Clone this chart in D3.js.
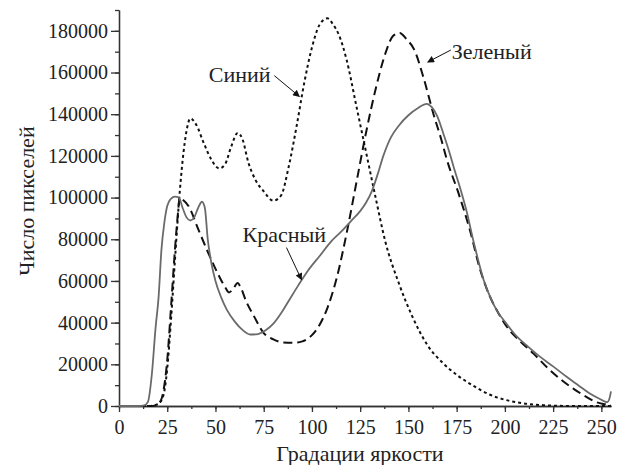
<!DOCTYPE html>
<html>
<head>
<meta charset="utf-8">
<script src="https://cdn.jsdelivr.net/npm/d3@7.9.0/dist/d3.min.js"></script>
<style>
  body { margin: 0; background: #fff; }
  svg text { font-family: "Liberation Serif", "Times New Roman", serif !important; }
  .axis path, .axis line { stroke: #333; stroke-width: 1.3; }
</style>
</head>
<body>
<svg id="chart" width="626" height="465"></svg>
<script>
// brightness levels and pixel counts (thousands)
const blueX = [0, 10, 15, 19, 21, 23, 25, 27, 29, 31, 33, 35, 37, 40, 44, 48, 52, 55, 58, 61.5, 64, 67, 71, 75, 80, 84, 88, 92, 96, 100, 104, 108, 111, 114, 118, 123, 128, 133, 138, 145, 152, 160, 168, 175, 184, 192, 200, 210, 220, 235, 255];
const blueY = [0, 0, 0, 0.5, 1.5, 5, 18, 42, 70, 97, 118, 132, 138, 135, 126, 118, 114, 116, 124, 131, 128, 117, 108, 103, 98.5, 101, 115, 134, 155, 172, 183, 186, 183, 178, 166, 144, 122, 100, 79, 59, 43, 29, 20.5, 15, 9.5, 5.5, 3, 1.2, 0.4, 0, 0];

const greenX = [0, 10, 16, 19, 21, 23, 25, 27, 29, 30.5, 31.5, 33, 36, 41, 46, 51.5, 55, 57, 59, 61.5, 63, 66, 70, 75, 80, 85, 90, 95, 100, 104, 108, 113, 118, 123, 128, 133, 138, 142, 145.5, 149, 153, 158, 163, 167, 170, 176, 182, 187, 192, 197, 201, 208, 215, 223, 230, 236, 242, 247, 251, 255];
const greenY = [0, 0, 0, 0.3, 1.5, 7, 22, 48, 75, 92, 100, 99, 96, 85, 74, 63, 57, 54.5, 56, 59, 57, 50, 43, 35, 32, 30.5, 30.3, 31, 34, 39, 47, 62, 83, 107, 131, 152, 169, 177.5, 179, 176, 171, 157, 140, 128, 118, 102, 84, 66, 53, 44, 38, 31, 25, 17.5, 12, 8, 4.5, 2, 1, 0.5];

const redX = [0, 10, 13, 15, 17, 19, 20.5, 22, 23.5, 25, 27, 29, 31, 33, 35, 37, 39, 41, 43, 44.5, 46, 48, 50, 53, 56, 60, 64, 68, 72, 76, 80, 84, 88, 93, 98, 104, 110, 115, 120, 125, 128, 131, 134, 137, 141, 145, 150, 155, 159.5, 162, 165, 168, 171, 174, 177, 180, 184, 189, 193, 196, 200, 206, 212, 218, 225, 232, 238, 244, 249, 253, 254, 255];
const redY = [0, 0, 0.3, 2, 15, 38, 52, 75, 88, 96, 99.5, 100.5, 100, 95, 90.5, 89, 90.5, 95, 98, 95, 80, 68, 60, 52, 46, 40.5, 36.5, 34.3, 34.5, 36.3, 39.5, 44.5, 50.5, 58, 65, 72, 79, 83.5, 88.5, 93.5, 97.5, 103, 111, 120, 129, 134.5, 139.5, 143, 145, 143.5, 139, 131, 122.5, 113, 104, 94, 78, 60.5, 51, 45.5, 40.5, 33.5, 28.5, 23.8, 19, 14, 10, 6, 3.5, 1.8, 3, 7];

const xTicks = [0, 25, 50, 75, 100, 125, 150, 175, 200, 225, 250];
const yTicks = [0, 20000, 40000, 60000, 80000, 100000, 120000, 140000, 160000, 180000];

const series = [
  { name: 'Синий', xs: blueX, ys: blueY, color: '#111', width: 2, dash: '3,3' },
  { name: 'Зеленый', xs: greenX, ys: greenY, color: '#111', width: 2, dash: '9,5' },
  { name: 'Красный', xs: redX, ys: redY, color: '#6a6a6a', width: 1.8, dash: null }
];

// labels with arrows, in data units (brightness, thousands of pixels)
const notes = [
  { text: 'Синий', tx: 46.5, ty: 155.5, from: [80.5, 158.5], to: [93.5, 148.5] },
  { text: 'Зеленый', tx: 172.5, ty: 166.5, from: [172, 170.8], to: [160, 165] },
  { text: 'Красный', tx: 64, ty: 78.5, from: [86.8, 76], to: [94.6, 60.6] }
];

const FONT = '"Liberation Serif", "Times New Roman", serif';

const svg = d3.select('#chart');
const margin = { top: 10, right: 15, bottom: 59, left: 119 };
const width = 626 - margin.left - margin.right;
const height = 465 - margin.top - margin.bottom;

const x = d3.scaleLinear().domain([0, 255]).range([margin.left, margin.left + width]);
const y = d3.scaleLinear().domain([0, 190000]).range([margin.top + height, margin.top]);

// minor ticks first, then major
svg.append('g')
  .attr('class', 'axis')
  .attr('transform', `translate(0,${margin.top + height})`)
  .call(d3.axisBottom(x).tickValues(d3.range(0, 256, 12.5)).tickSize(3).tickSizeOuter(0).tickFormat(''));
svg.append('g')
  .attr('class', 'axis')
  .attr('transform', `translate(0,${margin.top + height})`)
  .call(d3.axisBottom(x).tickValues(xTicks).tickSize(6).tickSizeOuter(0).tickPadding(8).tickFormat(d3.format('d')));

svg.append('g')
  .attr('class', 'axis')
  .attr('transform', `translate(${margin.left},0)`)
  .call(d3.axisLeft(y).tickValues(d3.range(0, 190001, 10000)).tickSize(4).tickSizeOuter(0).tickFormat(''));
svg.append('g')
  .attr('class', 'axis')
  .attr('transform', `translate(${margin.left},0)`)
  .call(d3.axisLeft(y).tickValues(yTicks).tickSize(8).tickSizeOuter(0).tickPadding(3).tickFormat(d3.format('d')));

svg.selectAll('.axis')
  .attr('font-family', FONT)
  .attr('font-size', 20);
svg.selectAll('.axis text').attr('fill', '#222');

const line = d3.line()
  .x(d => x(d[0]))
  .y(d => y(d[1] * 1000))
  .curve(d3.curveMonotoneX);

series.forEach(s => {
  const pts = s.xs.map((v, i) => [v, s.ys[i]]);
  svg.append('path')
    .attr('d', line(pts))
    .attr('fill', 'none')
    .attr('stroke', s.color)
    .attr('stroke-width', s.width)
    .attr('stroke-dasharray', s.dash)
    .attr('stroke-linejoin', 'round');
});

svg.append('defs').append('marker')
  .attr('id', 'arrow')
  .attr('viewBox', '0 0 10 10')
  .attr('refX', 9).attr('refY', 5)
  .attr('markerWidth', 9).attr('markerHeight', 7)
  .attr('markerUnits', 'userSpaceOnUse')
  .attr('orient', 'auto')
  .append('path')
  .attr('d', 'M0,0 L10,5 L0,10 Z')
  .attr('fill', '#111');

notes.forEach(n => {
  svg.append('text')
    .attr('x', x(n.tx))
    .attr('y', y(n.ty * 1000))
    .attr('font-family', FONT)
    .attr('font-size', 22)
    .attr('fill', '#222')
    .text(n.text);
  svg.append('line')
    .attr('x1', x(n.from[0])).attr('y1', y(n.from[1] * 1000))
    .attr('x2', x(n.to[0])).attr('y2', y(n.to[1] * 1000))
    .attr('stroke', '#111')
    .attr('stroke-width', 1)
    .attr('marker-end', 'url(#arrow)');
});

svg.append('text')
  .attr('x', 360)
  .attr('y', 461)
  .attr('text-anchor', 'middle')
  .attr('font-family', FONT)
  .attr('font-size', 22)
  .attr('fill', '#222')
  .text('Градации яркости');

svg.append('text')
  .attr('transform', `translate(34,${201}) rotate(-90)`)
  .attr('text-anchor', 'middle')
  .attr('font-family', FONT)
  .attr('font-size', 22)
  .attr('fill', '#222')
  .text('Число пикселей');
</script>
</body>
</html>
